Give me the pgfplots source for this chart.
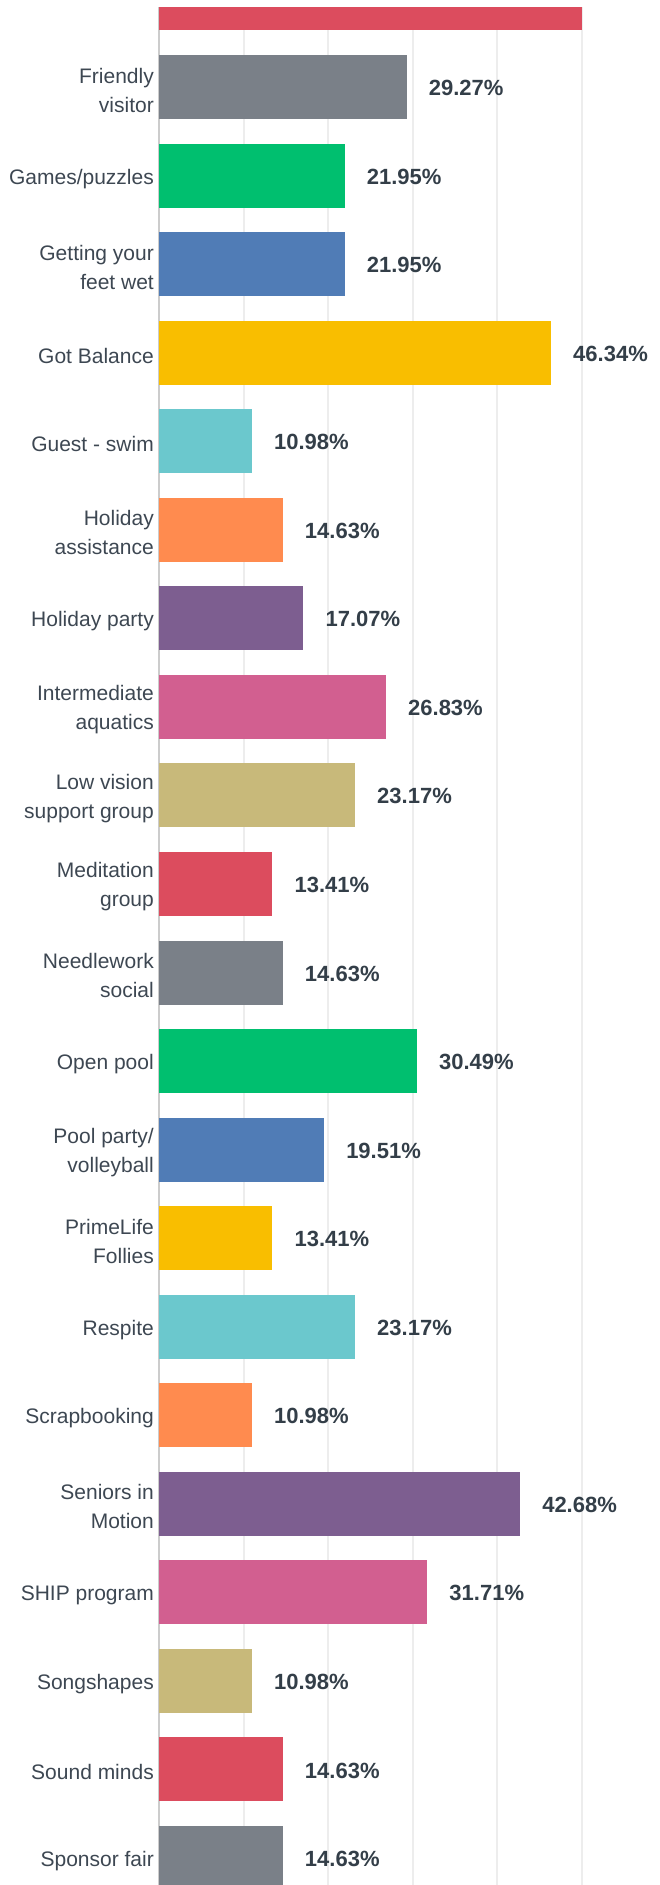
\documentclass[border=0pt]{standalone}
\usepackage{pgfplots}
\pgfplotsset{compat=1.18}
\usepackage{fontspec}
\setmainfont{Liberation Sans}
\definecolor{smred}{HTML}{DC4C5E}
\definecolor{smgray}{HTML}{7A8088}
\definecolor{smgreen}{HTML}{00BF6F}
\definecolor{smblue}{HTML}{507CB6}
\definecolor{smyellow}{HTML}{F9BE00}
\definecolor{smteal}{HTML}{6BC8CD}
\definecolor{smorange}{HTML}{FF8B4F}
\definecolor{smpurple}{HTML}{7D5E90}
\definecolor{smpink}{HTML}{D25F90}
\definecolor{smkhaki}{HTML}{C8B97A}
\definecolor{txt}{HTML}{333E48}
\definecolor{lbl}{HTML}{3D4752}
\definecolor{gridc}{HTML}{EDEDED}
\definecolor{axc}{HTML}{CCCCCC}
\begin{document}
\begin{tikzpicture}
\begin{axis}[
  at={(159pt,-7pt)}, anchor=north west,
  scale only axis, width=501pt, height=1878pt,
  xmin=0, xmax=59.22, ymin=-0.9035, ymax=20.305, y dir=reverse,
  xbar, bar width=64pt,
  every axis plot/.append style={bar shift=0pt, draw=none},
  axis line style={draw=none},
  xtick={10,20,30,40,50}, xticklabels={},
  xmajorgrids, grid style={draw=gridc, line width=2pt},
  extra x ticks={0}, extra x tick labels={},
  extra x tick style={grid style={draw=axc, line width=1.5pt}},
  ytick={0,...,20},
  yticklabels={{Friendly\\visitor},{Games/puzzles},{Getting your\\feet wet},{Got Balance},{Guest - swim},{Holiday\\assistance},{Holiday party},{Intermediate\\aquatics},{Low vision\\support group},{Meditation\\group},{Needlework\\social},{Open pool},{Pool party/\\volleyball},{PrimeLife\\Follies},{Respite},{Scrapbooking},{Seniors in\\Motion},{SHIP program},{Songshapes},{Sound minds},{Sponsor fair}},
  major tick length=0pt, tick style={draw=none},
  yticklabel style={align=right, font=\fontsize{21}{29}\selectfont, text=lbl, inner xsep=0pt, xshift=-5pt, yshift=-3pt},
  nodes near coords={\pgfmathprintnumber[fixed,fixed zerofill,precision=2]{\pgfplotspointmeta}\%},
  nodes near coords align=horizontal,
  every node near coord/.append style={anchor=west, inner xsep=0pt, xshift=22pt, yshift=-1pt, font=\fontsize{22}{26}\selectfont\bfseries, text=txt},
  /pgf/number format/assume math mode=true,
  cycle list={{fill=smred},{fill=smgray},{fill=smgreen},{fill=smblue},{fill=smyellow},{fill=smteal},{fill=smorange},{fill=smpurple},{fill=smpink},{fill=smkhaki}},
]
\addplot+[nodes near coords={}] coordinates {(50.00,-1)};
\addplot coordinates {(29.27,0)};
\addplot coordinates {(21.95,1)};
\addplot coordinates {(21.95,2)};
\addplot coordinates {(46.34,3)};
\addplot coordinates {(10.98,4)};
\addplot coordinates {(14.63,5)};
\addplot coordinates {(17.07,6)};
\addplot coordinates {(26.83,7)};
\addplot coordinates {(23.17,8)};
\addplot coordinates {(13.41,9)};
\addplot coordinates {(14.63,10)};
\addplot coordinates {(30.49,11)};
\addplot coordinates {(19.51,12)};
\addplot coordinates {(13.41,13)};
\addplot coordinates {(23.17,14)};
\addplot coordinates {(10.98,15)};
\addplot coordinates {(42.68,16)};
\addplot coordinates {(31.71,17)};
\addplot coordinates {(10.98,18)};
\addplot coordinates {(14.63,19)};
\addplot coordinates {(14.63,20)};
\end{axis}
\pgfresetboundingbox
\useasboundingbox (0,0) rectangle (660pt,-1885pt);
\end{tikzpicture}
\end{document}
